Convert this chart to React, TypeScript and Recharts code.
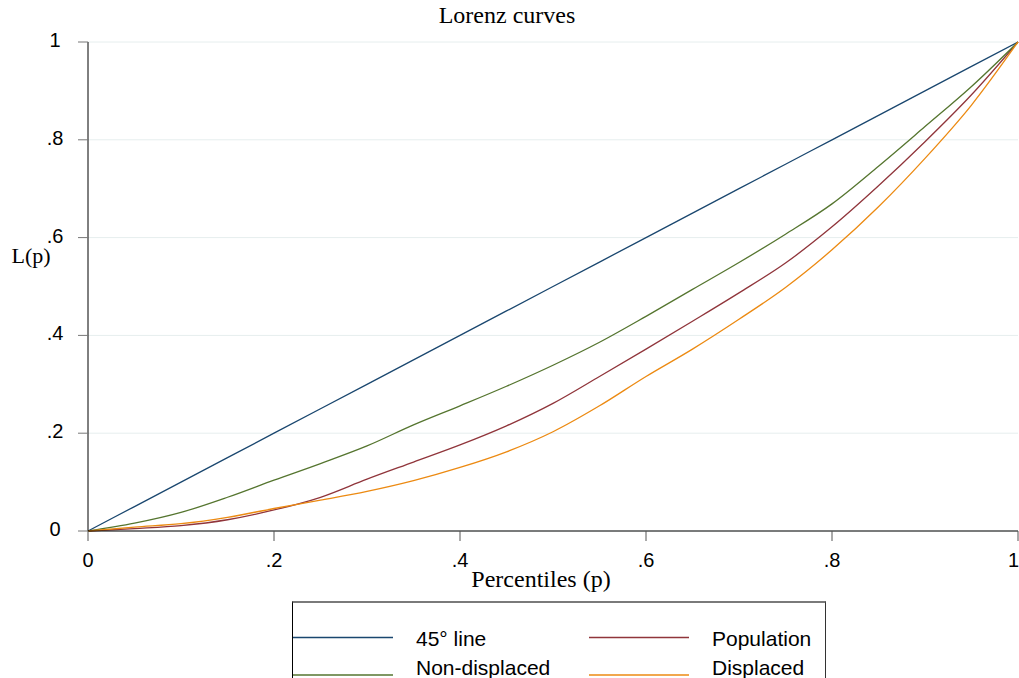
import React from 'react';
import { LineChart, Line, XAxis, YAxis, CartesianGrid, Legend } from 'recharts';

const percentiles = [0, 0.05, 0.1, 0.15, 0.2, 0.25, 0.3, 0.35, 0.4, 0.45, 0.5, 0.55, 0.6, 0.65, 0.7, 0.75, 0.8, 0.85, 0.9, 0.95, 1];
const line45 = [0, 0.05, 0.1, 0.15, 0.2, 0.25, 0.3, 0.35, 0.4, 0.45, 0.5, 0.55, 0.6, 0.65, 0.7, 0.75, 0.8, 0.85, 0.9, 0.95, 1];
const population = [0, 0.005, 0.011, 0.023, 0.043, 0.069, 0.106, 0.141, 0.176, 0.215, 0.261, 0.316, 0.372, 0.429, 0.487, 0.548, 0.622, 0.706, 0.796, 0.892, 1];
const nonDisplaced = [0, 0.016, 0.038, 0.069, 0.104, 0.138, 0.174, 0.217, 0.256, 0.296, 0.339, 0.386, 0.439, 0.494, 0.549, 0.607, 0.669, 0.746, 0.827, 0.909, 1];
const displaced = [0, 0.008, 0.015, 0.028, 0.046, 0.063, 0.081, 0.103, 0.13, 0.162, 0.203, 0.256, 0.316, 0.372, 0.433, 0.498, 0.575, 0.663, 0.762, 0.871, 1];

const xTicks = [0, 0.2, 0.4, 0.6, 0.8, 1];
const yTicks = [0, 0.2, 0.4, 0.6, 0.8, 1];

const series = [
  { key: 'line45', label: '45° line', color: '#1a476f' },
  { key: 'population', label: 'Population', color: '#90353b' },
  { key: 'nonDisplaced', label: 'Non-displaced', color: '#55752f' },
  { key: 'displaced', label: 'Displaced', color: '#ec8a12' },
];

const data = percentiles.map((p, i) => ({
  p,
  line45: line45[i],
  population: population[i],
  nonDisplaced: nonDisplaced[i],
  displaced: displaced[i],
}));

const SANS = '"Liberation Sans", Arial, sans-serif';
const SERIF = '"Liberation Serif", "Times New Roman", serif';

const fmt = (v: number) => (v === 0 ? '0' : v === 1 ? '1' : String(v).replace(/^0/, ''));

const YTick = (props: any) => {
  const { y, payload } = props;
  return (
    <text x={55} y={y} dy={5} textAnchor="middle" fontFamily={SANS} fontSize={20} fill="#000">
      {fmt(payload.value)}
    </text>
  );
};

const XTick = (props: any) => {
  const { x, y, payload } = props;
  const last = payload.value === 1;
  return (
    <text x={last ? x + 1 : x} y={y} dy={14} textAnchor={last ? 'end' : 'middle'} fontFamily={SANS} fontSize={20} fill="#000">
      {fmt(payload.value)}
    </text>
  );
};

const renderLegend = () => {
  const cols = [0, 296];
  const lineY = [34.5, 72];
  const textY = [43, 72];
  return (
    <div
      style={{
        width: 534,
        height: 80,
        boxSizing: 'border-box',
        borderTop: '2px solid #7a7a7a',
        borderLeft: '1px solid #000',
        borderRight: '1px solid #333',
        background: '#fff',
      }}
    >
      <svg width={532} height={78} style={{ display: 'block', overflow: 'visible' }}>
        {series.map((item, i) => {
          const c = cols[i % 2];
          const r = Math.floor(i / 2);
          return (
            <g key={item.key}>
              <line x1={c} x2={c + 100} y1={lineY[r]} y2={lineY[r]} stroke={item.color} strokeWidth={1.3} />
              <text x={c + 123} y={textY[r]} fontFamily={SANS} fontSize={21} fill="#000">
                {item.label}
              </text>
            </g>
          );
        })}
      </svg>
    </div>
  );
};

export default function App() {
  return (
    <div style={{ position: 'relative', width: 1019, height: 678, overflow: 'hidden', background: '#fff' }}>
      <style>{'body{margin:0;background:#fff}'}</style>
      <LineChart width={1019} height={678} data={data} margin={{ top: 42, right: 1, bottom: 107, left: 0 }}>
        <CartesianGrid vertical={false} stroke="#e6eeee" strokeWidth={1} />
        <XAxis
          dataKey="p"
          type="number"
          domain={[0, 1]}
          ticks={xTicks}
          height={40}
          tickSize={10}
          tickMargin={12}
          axisLine={{ stroke: '#000', strokeWidth: 1 }}
          tickLine={{ stroke: '#555', strokeWidth: 1 }}
          tick={<XTick />}
          interval={0}
          label={{
            content: () => (
              <text x={541} y={587} textAnchor="middle" fontFamily={SERIF} fontSize={24} fill="#000">
                Percentiles (p)
              </text>
            ),
          }}
        />
        <YAxis
          type="number"
          domain={[0, 1]}
          ticks={yTicks}
          width={88}
          tickSize={10}
          axisLine={{ stroke: '#000', strokeWidth: 1 }}
          tickLine={{ stroke: '#777', strokeWidth: 1 }}
          tick={<YTick />}
          interval={0}
          label={{
            content: () => (
              <text x={31} y={263} textAnchor="middle" fontFamily={SERIF} fontSize={22} fill="#000">
                L(p)
              </text>
            ),
          }}
        />
        <Legend
          layout="horizontal"
          verticalAlign="middle"
          align="center"
          wrapperStyle={{ position: 'absolute', left: 292, top: 601, width: 534, height: 80 }}
          content={renderLegend}
        />
        {series.map((s) => (
          <Line
            key={s.key}
            type="monotone"
            dataKey={s.key}
            name={s.label}
            stroke={s.color}
            strokeWidth={1.3}
            dot={false}
            activeDot={false}
            isAnimationActive={false}
          />
        ))}
      </LineChart>
      <div
        style={{
          position: 'absolute',
          left: 0,
          top: 0,
          width: 1014,
          textAlign: 'center',
          fontFamily: SERIF,
          fontSize: 24,
          lineHeight: '30px',
          color: '#000',
          pointerEvents: 'none',
        }}
      >
        Lorenz curves
      </div>
    </div>
  );
}
